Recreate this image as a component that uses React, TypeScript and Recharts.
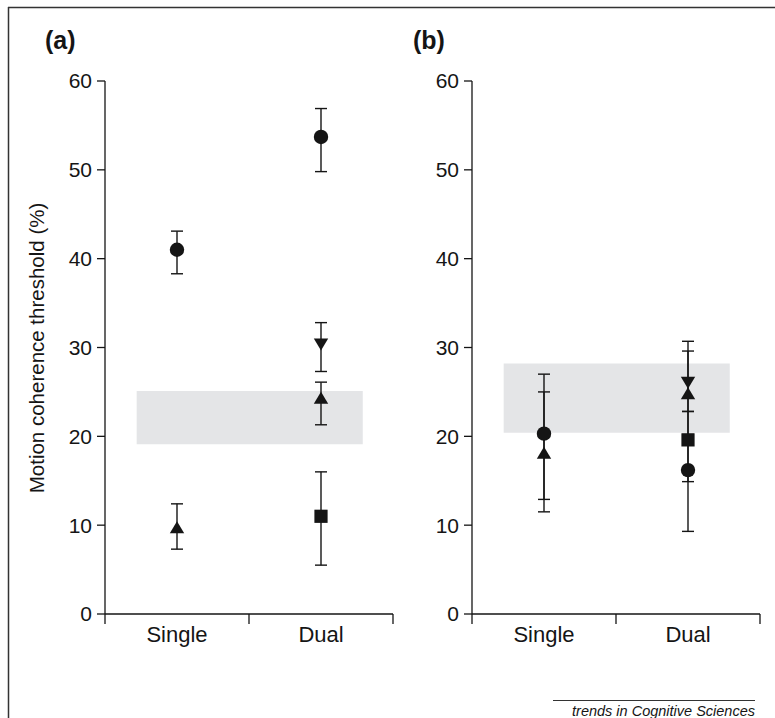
import { ScatterChart, Scatter, ErrorBar, XAxis, YAxis, ReferenceArea } from 'recharts';

const categories = ['Single', 'Dual'];
const yTicks = [0, 10, 20, 30, 40, 50, 60];
const xTicks = [0, 0.5, 1, 1.5, 2];

// panel (a): means per category (null = not shown) and [below, above] error lengths
const aCircle = [41.0, 53.7];
const aCircleErr = [[2.7, 2.1], [3.9, 3.2]];
const aTriUp = [9.7, 24.3];
const aTriUpErr = [[2.4, 2.7], [3.0, 1.8]];
const aTriDown = [null, 30.4];
const aTriDownErr = [null, [3.1, 2.4]];
const aSquare = [null, 11.0];
const aSquareErr = [null, [5.5, 5.0]];
const aBand = [19.1, 25.1];

// panel (b)
const bCircle = [20.3, 16.2];
const bCircleErr = [[7.4, 6.7], [6.9, 6.6]];
const bTriUp = [18.1, 24.8];
const bTriUpErr = [[6.6, 6.9], [4.6, 4.8]];
const bTriDown = [null, 26.1];
const bTriDownErr = [null, [3.3, 4.6]];
const bSquare = [null, 19.6];
const bSquareErr = [null, [4.7, 0.6]];
const bBand = [20.4, 28.2];

const bandSpan = [0.22, 1.79];

const INK = '#151515';
const FONT = '"Liberation Sans", Arial, sans-serif';

type Pt = { x: number; y: number; err: number[] };

function toPoints(means: (number | null)[], errs: (number[] | null)[]): Pt[] {
  const out: Pt[] = [];
  means.forEach((v, i) => {
    if (v == null) return;
    out.push({ x: i + 0.5, y: v, err: errs[i] as number[] });
  });
  return out;
}

const circleShape = (p: any) => <circle cx={p.cx} cy={p.cy} r={7.2} fill={INK} />;
const squareShape = (p: any) => <rect x={p.cx - 6.6} y={p.cy - 6.6} width={13.2} height={13.2} fill={INK} />;
const triUpShape = (p: any) => (
  <polygon points={`${p.cx},${p.cy - 6.5} ${p.cx + 7.2},${p.cy + 5.5} ${p.cx - 7.2},${p.cy + 5.5}`} fill={INK} />
);
const triDownShape = (p: any) => (
  <polygon points={`${p.cx},${p.cy + 6.5} ${p.cx + 7.2},${p.cy - 5.5} ${p.cx - 7.2},${p.cy - 5.5}`} fill={INK} />
);

const XTick = (props: any) => {
  const { x, y, payload } = props;
  const v = payload.value as number;
  if (Number.isInteger(v)) {
    return <line x1={x} x2={x} y1={y} y2={y + 10} stroke={INK} strokeWidth={1.3} />;
  }
  return (
    <text x={x} y={y + 28} textAnchor="middle" fontSize={22} fill={INK} fontFamily={FONT}>
      {categories[Math.floor(v)]}
    </text>
  );
};

type PanelProps = {
  left: number;
  band: number[];
  series: { pts: Pt[]; shape: any }[];
};

function Panel({ left, band, series }: PanelProps) {
  return (
    <div style={{ position: 'absolute', left, top: 60 }}>
      <ScatterChart width={400} height={600} margin={{ top: 21, right: 7, bottom: 6, left: 45 }}>
        <ReferenceArea
          x1={bandSpan[0]}
          x2={bandSpan[1]}
          y1={band[0]}
          y2={band[1]}
          fill="#e4e5e7"
          fillOpacity={1}
          stroke="none"
        />
        <XAxis
          type="number"
          dataKey="x"
          domain={[0, 2]}
          ticks={xTicks}
          interval={0}
          tickLine={false}
          tickSize={0}
          tickMargin={0}
          height={40}
          axisLine={{ stroke: INK, strokeWidth: 1.3 }}
          tick={<XTick />}
        />
        <YAxis
          type="number"
          dataKey="y"
          domain={[0, 60]}
          ticks={yTicks}
          interval={0}
          width={60}
          tickSize={8}
          tickMargin={5}
          axisLine={{ stroke: INK, strokeWidth: 1.3 }}
          tickLine={{ stroke: INK, strokeWidth: 1.3 }}
          tick={{ fontSize: 21, fill: INK, fontFamily: FONT }}
        />
        {series.map((s, i) => (
          <Scatter key={i} data={s.pts} shape={s.shape} isAnimationActive={false}>
            <ErrorBar dataKey="err" direction="y" width={6} stroke={INK} strokeWidth={1.4} />
          </Scatter>
        ))}
      </ScatterChart>
    </div>
  );
}

export default function App() {
  const seriesA = [
    { pts: toPoints(aCircle, aCircleErr), shape: circleShape },
    { pts: toPoints(aTriUp, aTriUpErr), shape: triUpShape },
    { pts: toPoints(aTriDown, aTriDownErr), shape: triDownShape },
    { pts: toPoints(aSquare, aSquareErr), shape: squareShape },
  ];
  const seriesB = [
    { pts: toPoints(bCircle, bCircleErr), shape: circleShape },
    { pts: toPoints(bTriUp, bTriUpErr), shape: triUpShape },
    { pts: toPoints(bTriDown, bTriDownErr), shape: triDownShape },
    { pts: toPoints(bSquare, bSquareErr), shape: squareShape },
  ];
  return (
    <div
      style={{
        position: 'absolute',
        left: 0,
        top: 0,
        width: 775,
        height: 718,
        overflow: 'hidden',
        background: '#fff',
        fontFamily: FONT,
      }}
    >
      <Panel left={0} band={aBand} series={seriesA} />
      <Panel left={367} band={bBand} series={seriesB} />
      <svg width={775} height={718} style={{ position: 'absolute', left: 0, top: 0, pointerEvents: 'none' }}>
        <line x1={8} y1={7.5} x2={775} y2={7.5} stroke="#333" strokeWidth={1.5} />
        <line x1={8.5} y1={7} x2={8.5} y2={718} stroke="#333" strokeWidth={1.5} />
        <text x={45} y={49} fontSize={25} fontWeight="bold" fill={INK} fontFamily={FONT}>
          (a)
        </text>
        <text x={413} y={49} fontSize={25} fontWeight="bold" fill={INK} fontFamily={FONT}>
          (b)
        </text>
        <text
          x={44}
          y={348}
          fontSize={20.5}
          fill={INK}
          fontFamily={FONT}
          textAnchor="middle"
          transform="rotate(-90 44 348)"
        >
          Motion coherence threshold (%)
        </text>
        <line x1={553} y1={700.5} x2={755} y2={700.5} stroke="#333" strokeWidth={1} />
        <text x={755} y={716} fontSize={14.5} fontStyle="italic" fill={INK} fontFamily={FONT} textAnchor="end">
          trends in Cognitive Sciences
        </text>
      </svg>
    </div>
  );
}
